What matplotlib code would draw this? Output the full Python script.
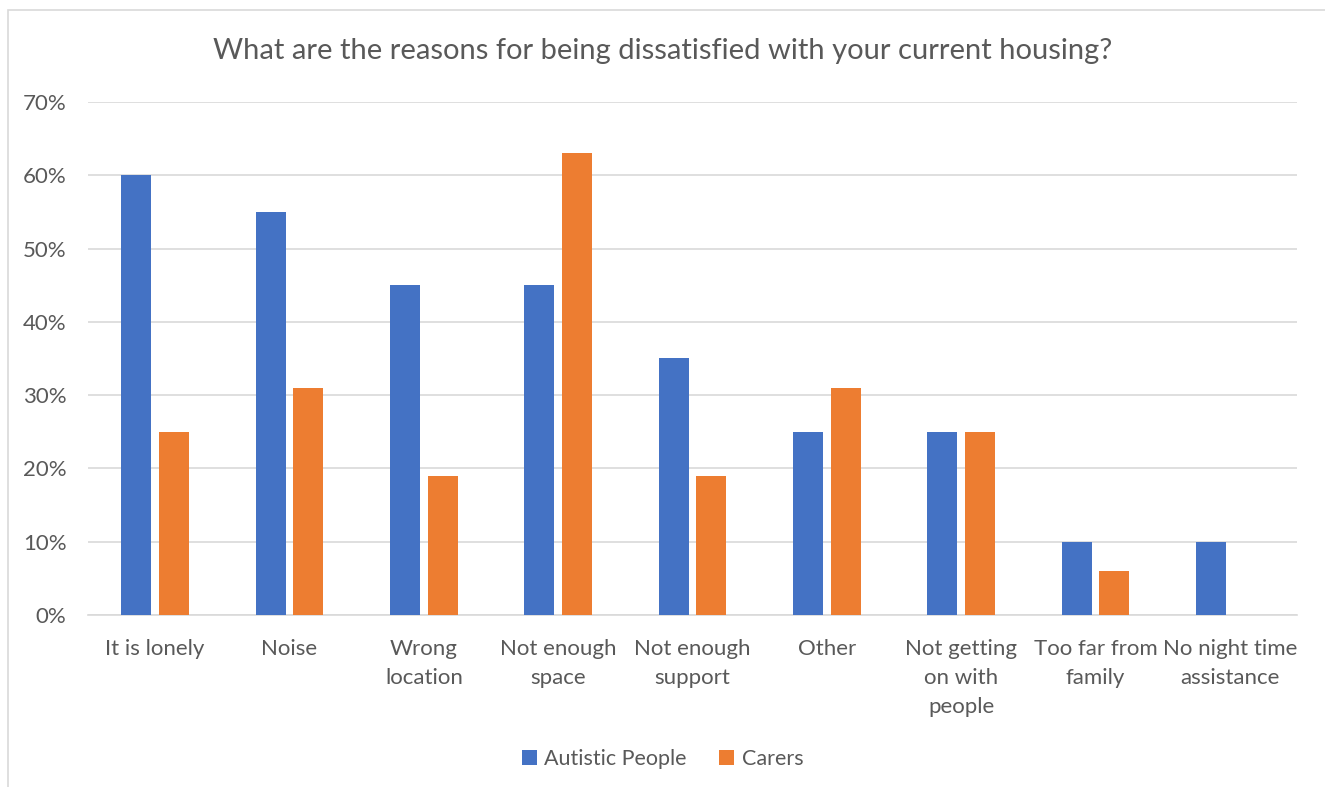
import numpy as np
import matplotlib
matplotlib.use("Agg")
import matplotlib.pyplot as plt
from matplotlib.patches import Rectangle
from matplotlib.ticker import PercentFormatter

categories = ["It is lonely", "Noise", "Wrong\nlocation", "Not enough\nspace",
              "Not enough\nsupport", "Other", "Not getting\non with\npeople",
              "Too far from\nfamily", "No night time\nassistance"]
autistic = [60, 55, 45, 45, 35, 25, 25, 10, 10]
carers = [25, 31, 19, 63, 19, 31, 25, 6, 0]

blue = "#4472C4"
orange = "#ED7D31"
text_col = "#595959"

plt.rcParams["font.family"] = ["Lato", "DejaVu Sans"]

fig = plt.figure(figsize=(13.25, 7.87), dpi=100)
ax = fig.add_axes([0.0664, 0.2186, 0.9126, 0.6518])

x = np.arange(len(categories))
w = 0.223
ax.bar(x - 0.14, autistic, w, color=blue, label="Autistic People", zorder=3)
ax.bar(x + 0.14, carers, w, color=orange, label="Carers", zorder=3)

ax.set_xlim(-0.5, len(categories) - 0.5)
ax.set_ylim(0, 70)
ax.set_yticks(range(0, 71, 10))
ax.yaxis.set_major_formatter(PercentFormatter(decimals=0))
ax.grid(axis="y", color="#D9D9D9", linewidth=1.2, zorder=0)
for s in ["top", "right", "left"]:
    ax.spines[s].set_visible(False)
ax.spines["bottom"].set_color("#D9D9D9")
ax.spines["bottom"].set_linewidth(1.2)
ax.tick_params(length=0, labelsize=16, colors=text_col, pad=17)
ax.tick_params(axis="y", pad=15.5)
ax.set_xticks(x)
ax.set_xticklabels(categories, linespacing=1.58)

fig.text(0.5, 0.935, "What are the reasons for being dissatisfied with your current housing?",
         ha="center", va="center", fontsize=21, color=text_col)

fig.legend(loc="center", bbox_to_anchor=(0.5, 0.036), ncol=2, frameon=False,
           fontsize=15.5, labelcolor=text_col, handlelength=0.7, handleheight=0.7,
           handletextpad=0.35, columnspacing=1.5)

fig.patches.append(Rectangle((8 / 1325, -0.05), 1.1, 1 - 10 / 787 + 0.05,
                             transform=fig.transFigure, fill=False,
                             edgecolor="#D9D9D9", linewidth=1.2))

fig.savefig("out.png", dpi=100)
